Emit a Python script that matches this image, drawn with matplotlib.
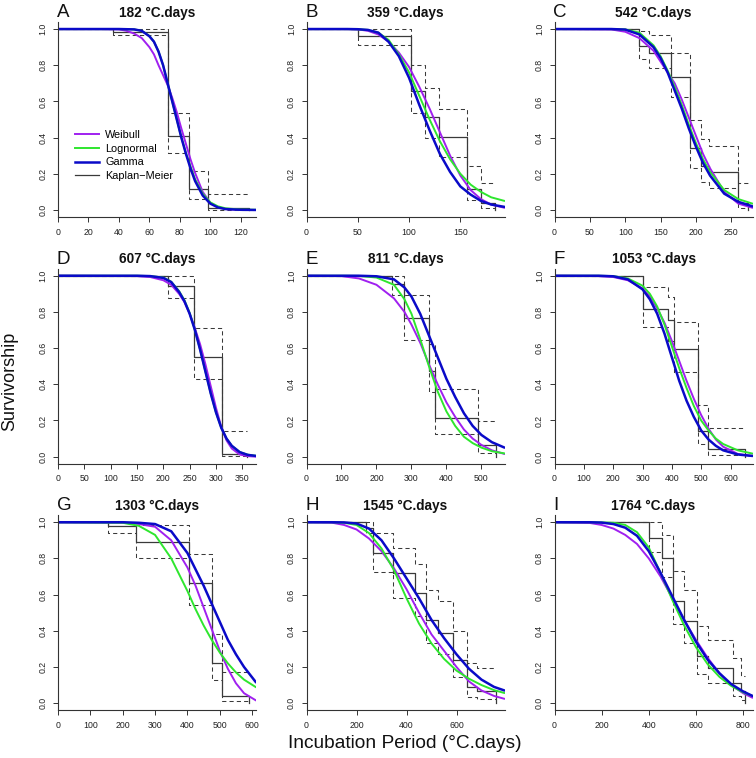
import matplotlib
matplotlib.use('Agg')
import matplotlib.pyplot as plt
from matplotlib.lines import Line2D

plt.rcParams['font.family'] = ['Liberation Sans', 'DejaVu Sans']

# ---------------- panel meta ----------------
panel_letters = ['A', 'B', 'C', 'D', 'E', 'F', 'G', 'H', 'I']
degree_days = [182, 359, 542, 607, 811, 1053, 1303, 1545, 1764]
x_max = [130, 193, 280, 376, 566, 675, 612, 792, 840]
x_tick_step = [20, 50, 50, 50, 100, 100, 100, 200, 200]
y_ticks = [0.0, 0.2, 0.4, 0.6, 0.8, 1.0]
y_tick_labels = ['0.0', '0.2', '0.4', '0.6', '0.8', '1.0']

# ---------------- fitted survival curves ----------------
a_x = [0, 30, 40, 45, 50, 55, 60, 63, 66, 69, 72, 75, 78, 81, 84, 87, 90, 95, 100, 105, 110, 120, 130]
a_weibull = [1, 1, 0.998, 0.99, 0.975, 0.95, 0.90, 0.86, 0.80, 0.745, 0.69, 0.62, 0.54, 0.45, 0.365, 0.28, 0.205, 0.10, 0.04, 0.015, 0.005, 0.0, 0.0]
a_lognormal = [1, 1, 1, 0.999, 0.998, 0.99, 0.962, 0.93, 0.877, 0.80, 0.70, 0.60, 0.50, 0.40, 0.315, 0.24, 0.17, 0.09, 0.042, 0.02, 0.009, 0.002, 0.001]
a_gamma = [1, 1, 1, 0.999, 0.998, 0.99, 0.96, 0.93, 0.875, 0.80, 0.70, 0.60, 0.50, 0.40, 0.31, 0.23, 0.16, 0.08, 0.035, 0.014, 0.005, 0.001, 0.0]

b_x = [0, 40, 50, 60, 70, 80, 90, 100, 110, 120, 130, 140, 150, 160, 170, 180, 193]
b_weibull = [1, 1, 0.998, 0.99, 0.97, 0.93, 0.87, 0.79, 0.68, 0.56, 0.43, 0.30, 0.19, 0.11, 0.06, 0.03, 0.012]
b_lognormal = [1, 1, 0.999, 0.995, 0.98, 0.94, 0.86, 0.76, 0.63, 0.50, 0.38, 0.28, 0.20, 0.14, 0.10, 0.07, 0.05]
b_gamma = [1, 1, 0.999, 0.995, 0.98, 0.93, 0.85, 0.73, 0.58, 0.44, 0.31, 0.21, 0.13, 0.085, 0.05, 0.03, 0.017]

c_x = [0, 80, 100, 120, 140, 150, 160, 170, 180, 190, 200, 210, 220, 240, 260, 280]
c_weibull = [1, 0.998, 0.985, 0.95, 0.88, 0.82, 0.76, 0.70, 0.61, 0.51, 0.41, 0.31, 0.23, 0.10, 0.035, 0.012]
c_lognormal = [1, 1, 0.998, 0.98, 0.91, 0.85, 0.77, 0.68, 0.58, 0.47, 0.37, 0.28, 0.21, 0.11, 0.06, 0.035]
c_gamma = [1, 1, 0.997, 0.97, 0.90, 0.84, 0.76, 0.66, 0.56, 0.45, 0.35, 0.26, 0.19, 0.09, 0.045, 0.02]

d_x = [0, 150, 175, 200, 215, 230, 240, 250, 260, 270, 280, 290, 300, 310, 320, 330, 345, 360, 376]
d_weibull = [1, 0.998, 0.993, 0.975, 0.95, 0.90, 0.855, 0.79, 0.71, 0.62, 0.51, 0.39, 0.27, 0.165, 0.09, 0.045, 0.012, 0.003, 0.0]
d_lognormal = [1, 1, 0.998, 0.99, 0.967, 0.915, 0.865, 0.795, 0.70, 0.59, 0.47, 0.35, 0.245, 0.16, 0.10, 0.06, 0.026, 0.011, 0.005]
d_gamma = [1, 1, 0.998, 0.988, 0.965, 0.91, 0.86, 0.79, 0.70, 0.59, 0.47, 0.35, 0.245, 0.16, 0.10, 0.06, 0.025, 0.01, 0.004]

e_x = [0, 100, 150, 200, 250, 280, 300, 325, 350, 375, 400, 425, 450, 475, 500, 530, 566]
e_weibull = [1, 0.998, 0.985, 0.95, 0.875, 0.80, 0.73, 0.63, 0.51, 0.40, 0.30, 0.22, 0.15, 0.10, 0.065, 0.035, 0.015]
e_lognormal = [1, 1, 0.999, 0.99, 0.95, 0.87, 0.79, 0.65, 0.50, 0.36, 0.25, 0.17, 0.11, 0.075, 0.05, 0.03, 0.018]
e_gamma = [1, 1, 1, 0.997, 0.98, 0.935, 0.885, 0.79, 0.67, 0.55, 0.43, 0.33, 0.24, 0.17, 0.12, 0.08, 0.05]

f_x = [0, 150, 200, 250, 300, 325, 350, 375, 400, 425, 450, 475, 500, 525, 550, 575, 625, 675]
f_weibull = [1, 0.998, 0.993, 0.975, 0.93, 0.885, 0.82, 0.74, 0.64, 0.53, 0.42, 0.32, 0.23, 0.155, 0.095, 0.055, 0.015, 0.003]
f_lognormal = [1, 1, 0.998, 0.985, 0.945, 0.90, 0.83, 0.73, 0.61, 0.49, 0.38, 0.28, 0.20, 0.145, 0.10, 0.07, 0.035, 0.017]
f_gamma = [1, 1, 0.997, 0.98, 0.925, 0.87, 0.79, 0.68, 0.55, 0.42, 0.31, 0.22, 0.145, 0.095, 0.06, 0.035, 0.012, 0.004]

g_x = [0, 200, 250, 300, 350, 400, 425, 450, 475, 500, 525, 550, 575, 612]
g_weibull = [1, 0.998, 0.99, 0.975, 0.90, 0.75, 0.65, 0.53, 0.41, 0.29, 0.19, 0.11, 0.055, 0.015]
g_lognormal = [1, 0.997, 0.98, 0.93, 0.80, 0.62, 0.52, 0.43, 0.35, 0.28, 0.22, 0.17, 0.13, 0.088]
g_gamma = [1, 1, 0.997, 0.99, 0.95, 0.83, 0.74, 0.65, 0.55, 0.45, 0.35, 0.27, 0.20, 0.115]

h_x = [0, 100, 150, 200, 250, 300, 350, 400, 450, 500, 550, 600, 650, 700, 750, 792]
h_weibull = [1, 0.998, 0.985, 0.96, 0.91, 0.84, 0.745, 0.63, 0.50, 0.38, 0.29, 0.20, 0.12, 0.07, 0.04, 0.024]
h_lognormal = [1, 1, 0.997, 0.985, 0.94, 0.855, 0.735, 0.58, 0.44, 0.33, 0.245, 0.18, 0.135, 0.10, 0.072, 0.056]
h_gamma = [1, 1, 0.999, 0.993, 0.965, 0.90, 0.80, 0.69, 0.58, 0.46, 0.36, 0.27, 0.19, 0.13, 0.09, 0.07]

i_x = [0, 150, 200, 250, 300, 350, 400, 450, 500, 550, 600, 650, 700, 750, 800, 840]
i_weibull = [1, 0.996, 0.985, 0.965, 0.93, 0.88, 0.80, 0.70, 0.58, 0.46, 0.35, 0.25, 0.165, 0.10, 0.055, 0.03]
i_lognormal = [1, 1, 0.999, 0.997, 0.985, 0.945, 0.86, 0.72, 0.57, 0.43, 0.31, 0.215, 0.145, 0.095, 0.06, 0.04]
i_gamma = [1, 1, 0.998, 0.99, 0.97, 0.925, 0.84, 0.72, 0.59, 0.46, 0.34, 0.24, 0.165, 0.105, 0.065, 0.04]

# ---------------- Kaplan-Meier estimates ----------------
km_a_time = [36, 72.2, 85.7, 98.7]
km_a_surv = [0.985, 0.41, 0.115, 0.012]
km_a_upper = [1.0, 0.535, 0.215, 0.088]
km_a_lower = [0.966, 0.316, 0.06, 0.002]
km_a_end = 125.5

km_b_time = [50.5, 101.5, 115.5, 129, 156, 170.5]
km_b_surv = [0.963, 0.655, 0.515, 0.405, 0.115, 0.037]
km_b_upper = [1.0, 0.80, 0.676, 0.56, 0.245, 0.147]
km_b_lower = [0.912, 0.538, 0.40, 0.291, 0.055, 0.009]
km_b_end = 184

km_c_time = [119, 133.5, 165, 192.3, 206.7, 218.7, 259]
km_c_surv = [0.904, 0.869, 0.737, 0.341, 0.245, 0.208, 0.04]
km_c_upper = [0.99, 0.967, 0.866, 0.495, 0.394, 0.354, 0.149]
km_c_lower = [0.832, 0.783, 0.626, 0.234, 0.157, 0.12, 0.009]
km_c_end = 273.7

km_d_time = [208.5, 257.5, 311.5]
km_d_surv = [0.941, 0.552, 0.015]
km_d_upper = [1.0, 0.711, 0.14]
km_d_lower = [0.875, 0.427, 0.003]
km_d_end = 358

km_e_time = [243, 278, 349.7, 368.6, 489.6]
km_e_surv = [0.956, 0.764, 0.475, 0.215, 0.064]
km_e_upper = [1.0, 0.895, 0.62, 0.376, 0.195]
km_e_lower = [0.895, 0.645, 0.355, 0.125, 0.02]
km_e_end = 540.6

km_f_time = [301.7, 387, 405.7, 490, 524.6]
km_f_surv = [0.816, 0.755, 0.595, 0.144, 0.04]
km_f_upper = [0.936, 0.884, 0.746, 0.284, 0.157]
km_f_lower = [0.718, 0.64, 0.47, 0.07, 0.009]
km_f_end = 651

km_g_time = [155, 241, 404, 476, 507]
km_g_surv = [0.98, 0.889, 0.665, 0.221, 0.042]
km_g_upper = [1.0, 0.985, 0.823, 0.385, 0.171]
km_g_lower = [0.939, 0.801, 0.543, 0.129, 0.011]
km_g_end = 590

km_h_time = [237, 264, 347, 433, 476, 524, 584, 643, 683]
km_h_surv = [0.97, 0.829, 0.718, 0.61, 0.457, 0.39, 0.238, 0.088, 0.066]
km_h_upper = [1.0, 0.94, 0.86, 0.768, 0.626, 0.565, 0.40, 0.221, 0.193]
km_h_lower = [0.94, 0.727, 0.58, 0.483, 0.335, 0.273, 0.144, 0.033, 0.022]
km_h_end = 757

km_i_time = [402, 458, 504, 549, 603, 653, 756, 790]
km_i_surv = [0.915, 0.805, 0.565, 0.455, 0.26, 0.195, 0.11, 0.065]
km_i_upper = [1.0, 0.93, 0.73, 0.625, 0.425, 0.35, 0.25, 0.15]
km_i_lower = [0.835, 0.70, 0.435, 0.335, 0.16, 0.11, 0.04, 0.015]
km_i_end = 808

curve_x = [a_x, b_x, c_x, d_x, e_x, f_x, g_x, h_x, i_x]
curve_weibull = [a_weibull, b_weibull, c_weibull, d_weibull, e_weibull, f_weibull, g_weibull, h_weibull, i_weibull]
curve_lognormal = [a_lognormal, b_lognormal, c_lognormal, d_lognormal, e_lognormal, f_lognormal, g_lognormal, h_lognormal, i_lognormal]
curve_gamma = [a_gamma, b_gamma, c_gamma, d_gamma, e_gamma, f_gamma, g_gamma, h_gamma, i_gamma]
km_time = [km_a_time, km_b_time, km_c_time, km_d_time, km_e_time, km_f_time, km_g_time, km_h_time, km_i_time]
km_surv = [km_a_surv, km_b_surv, km_c_surv, km_d_surv, km_e_surv, km_f_surv, km_g_surv, km_h_surv, km_i_surv]
km_upper = [km_a_upper, km_b_upper, km_c_upper, km_d_upper, km_e_upper, km_f_upper, km_g_upper, km_h_upper, km_i_upper]
km_lower = [km_a_lower, km_b_lower, km_c_lower, km_d_lower, km_e_lower, km_f_lower, km_g_lower, km_h_lower, km_i_lower]
km_end = [km_a_end, km_b_end, km_c_end, km_d_end, km_e_end, km_f_end, km_g_end, km_h_end, km_i_end]

# ---------------- styling ----------------
COL_W = '#A020F0'
COL_L = '#2EE62E'
COL_G = '#0A0AC8'
COL_KM = '#3a3a3a'
AX_COL = '#333333'

W, H = 756, 758
fig = plt.figure(figsize=(W / 100, H / 100), dpi=100)

col_left = [58, 306.5, 554.5]
ax_w = 198
row_top = [21.8, 268.5, 515.0]
ax_h = 195.4


def step_xy(times, vals, end):
    xs = [0]
    ys = [1.0]
    prev = 1.0
    for t, v in zip(times, vals):
        xs += [t, t]
        ys += [prev, v]
        prev = v
    xs.append(end)
    ys.append(prev)
    return xs, ys


for k in range(9):
    r, c = divmod(k, 3)
    left = col_left[c] / W
    bottom = 1 - (row_top[r] + ax_h) / H
    ax = fig.add_axes([left, bottom, ax_w / W, ax_h / H])

    # KM and confidence bands
    xs, ys = step_xy(km_time[k], km_upper[k], km_end[k])
    ax.plot(xs, ys, color=COL_KM, lw=0.75, ls=(0, (4, 3)))
    xs, ys = step_xy(km_time[k], km_lower[k], km_end[k])
    ax.plot(xs, ys, color=COL_KM, lw=0.75, ls=(0, (4, 3)))
    xs, ys = step_xy(km_time[k], km_surv[k], km_end[k])
    xs = xs + [km_end[k]]
    ys = ys + [0.0]
    ax.plot(xs, ys, color=COL_KM, lw=0.9)

    # fitted curves
    ax.plot(curve_x[k], curve_weibull[k], color=COL_W, lw=1.4, solid_capstyle='round', solid_joinstyle='round')
    ax.plot(curve_x[k], curve_lognormal[k], color=COL_L, lw=1.4, solid_capstyle='round', solid_joinstyle='round')
    ax.plot(curve_x[k], curve_gamma[k], color=COL_G, lw=1.8, solid_capstyle='round', solid_joinstyle='round')

    ax.set_xlim(0, x_max[k])
    ax.set_ylim(-0.04, 1.04)
    step = x_tick_step[k]
    ticks = list(range(0, x_max[k] + 1, step))
    ax.set_xticks(ticks)
    ax.set_xticklabels([str(t) for t in ticks])
    ax.set_yticks(y_ticks)
    ax.set_yticklabels(y_tick_labels, rotation=90, va='center')

    for s in ['top', 'right']:
        ax.spines[s].set_visible(False)
    for s in ['left', 'bottom']:
        ax.spines[s].set_color(AX_COL)
        ax.spines[s].set_linewidth(0.8)
    ax.tick_params(direction='out', length=3.6, width=0.7, color=AX_COL,
                   labelsize=6.3, labelcolor='#222222', pad=4.0)
    ax.patch.set_alpha(0)

    # titles and letters
    title_y = 1 - (row_top[r] - 9.2) / H
    fig.text((col_left[c] + ax_w / 2) / W, title_y, f"{degree_days[k]} \u00b0C.days",
             ha='center', va='center', fontsize=9.8, fontweight='bold', color='#111111')
    fig.text((col_left[c] - 1) / W, title_y, panel_letters[k], ha='left', va='center',
             fontsize=13.5, color='#111111')

    if k == 0:
        handles = [Line2D([], [], color=COL_W, lw=1.4),
                   Line2D([], [], color=COL_L, lw=1.4),
                   Line2D([], [], color=COL_G, lw=1.8),
                   Line2D([], [], color=COL_KM, lw=0.9)]
        labels = ['Weibull', 'Lognormal', 'Gamma', 'Kaplan\u2212Meier']
        ax.legend(handles, labels, loc='upper left', bbox_to_anchor=(0.085, 0.445),
                  frameon=False, fontsize=7.8, handlelength=2.2, handletextpad=0.6,
                  labelspacing=0.33, borderpad=0, borderaxespad=0)

fig.text(405 / W, 1 - 743 / H, 'Incubation Period (\u00b0C.days)', ha='center', va='center',
         fontsize=13.8, color='#111111')
fig.text(10 / W, 1 - 381 / H, 'Survivorship', ha='center', va='center', rotation=90,
         fontsize=13, color='#111111')

fig.savefig('out.png', dpi=100, facecolor='white')
